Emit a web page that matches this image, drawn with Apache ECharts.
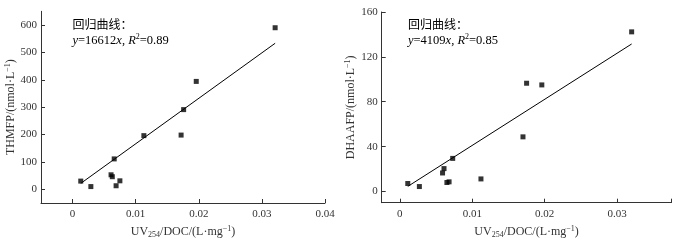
<!DOCTYPE html>
<html><head><meta charset="utf-8">
<script src="https://cdn.jsdelivr.net/npm/echarts@6/dist/echarts.min.js"></script>
<style>html,body{margin:0;padding:0;background:#fff}#c{width:681px;height:242px}</style>
</head><body><div id="c"></div>
<script>
// THMFP chart
const thmX = [0.0013, 0.0029, 0.0061, 0.0063, 0.0066, 0.0069, 0.0075, 0.0113, 0.0172, 0.0176, 0.0196, 0.0321];
const thmY = [30, 10, 53, 46, 111, 13, 31, 196, 198, 291, 394, 590];
const thmSlope = 16612;
const thmR2 = '0.89';
const thmXTicks = [0, 0.01, 0.02, 0.03, 0.04];
const thmYTicks = [0, 100, 200, 300, 400, 500, 600];
// DHAAFP chart
const dhaX = [0.0011, 0.0027, 0.0059, 0.0061, 0.0065, 0.0068, 0.0073, 0.0112, 0.0170, 0.0175, 0.0196, 0.0320];
const dhaY = [7.1, 4.4, 16.5, 20.4, 8.0, 8.6, 29.5, 11.2, 48.7, 96.5, 95.0, 142.3];
const dhaSlope = 4109;
const dhaR2 = '0.85';
const dhaXTicks = [0, 0.01, 0.02, 0.03];
const dhaXTickMarks = [0, 0.01, 0.02, 0.03, 0.0375];
const dhaYTicks = [0, 40, 80, 120, 160];

const serif = '"Liberation Serif","Times New Roman",serif';
const cjk = '"Noto Sans CJK SC",sans-serif';
const col = '#333';

function pairs(xs, ys){ return xs.map((x,i)=>[x, ys[i]]); }
function fitLine(xs, k){ const a=Math.min(...xs), b=Math.max(...xs); return [[a,k*a],[b,k*b]]; }
const fmtX = v => String(+(+v).toFixed(4));

const nameRich = {
  n:{fontFamily:serif,fontSize:12,color:col,lineHeight:14},
  sub:{fontFamily:serif,fontSize:8,color:col,verticalAlign:'bottom',lineHeight:14,padding:[4,0,0,0]},
  sup:{fontFamily:serif,fontSize:8,color:col,verticalAlign:'top',lineHeight:14,padding:[0,0,4,0]}
};
const xName = '{n|UV}{sub|254}{n|/DOC/(L·mg}{sup|−1}{n|)}';

function xAxis(gi, min, max, labels, marks){
  return {gridIndex:gi, type:'value', min, max, name:xName, nameLocation:'middle', nameGap:21,
    nameTextStyle:{rich:nameRich},
    axisLine:{show:true,onZero:false,lineStyle:{color:col,width:1}},
    axisTick:{show:true,inside:true,length:4,customValues:marks,lineStyle:{color:col}},
    axisLabel:{customValues:labels,formatter:fmtX,fontFamily:serif,fontSize:11,color:col,margin:6},
    splitLine:{show:false}};
}
function yAxis(gi, min, max, labels, marks, nm){
  return {gridIndex:gi, type:'value', min, max, name:nm, nameLocation:'middle', nameGap:21, nameRotate:90,
    nameTextStyle:{rich:nameRich},
    axisLine:{show:true,onZero:false,lineStyle:{color:col,width:1}},
    axisTick:{show:true,inside:true,length:4,customValues:marks,lineStyle:{color:col}},
    axisLabel:{customValues:labels,fontFamily:serif,fontSize:11,color:col,margin:4},
    splitLine:{show:false}};
}

const annRich = {
  c:{fontFamily:cjk,fontSize:12,color:'#222',lineHeight:17},
  i:{fontFamily:serif,fontSize:12.5,fontStyle:'italic',color:'#222',lineHeight:17},
  t:{fontFamily:serif,fontSize:12.5,color:'#222',lineHeight:17},
  s:{fontFamily:serif,fontSize:8,color:'#222',verticalAlign:'top',lineHeight:17,padding:[0,0,5,0]}
};
function ann(x, k, r2){
  return {type:'text', left:x, top:18, style:{
    text:'{c|回归曲线：}\n{i|y}{t|='+k+'}{i|x}{t|, }{i|R}{s|2}{t|='+r2+'}', rich:annRich}};
}

const chart = echarts.init(document.getElementById('c'), null, {renderer:'canvas'});
chart.setOption({
  animation:false,
  grid:[{left:41,top:11.3,width:284,height:191.7,containLabel:false,outerBoundsMode:'none'},
        {left:381.7,top:12,width:289.8,height:190.7,containLabel:false,outerBoundsMode:'none'}],
  xAxis:[xAxis(0,-0.005,0.04,thmXTicks,thmXTicks), xAxis(1,-0.0025,0.0375,dhaXTicks,dhaXTickMarks)],
  yAxis:[yAxis(0,-50,650,thmYTicks,thmYTicks,'{n|THMFP/(nmol·L}{sup|−1}{n|)}'),
         yAxis(1,-10,160,dhaYTicks,dhaYTicks,'{n|DHAAFP/(nmol·L}{sup|−1}{n|)}')],
  graphic:[ann(72.5, thmSlope, thmR2), ann(408, dhaSlope, dhaR2)],
  series:[
    {type:'scatter',xAxisIndex:0,yAxisIndex:0,data:pairs(thmX,thmY),symbol:'rect',symbolSize:5,itemStyle:{color:'#000'}},
    {type:'line',xAxisIndex:0,yAxisIndex:0,data:fitLine(thmX,thmSlope),symbol:'none',lineStyle:{color:'#000',width:1}},
    {type:'scatter',xAxisIndex:1,yAxisIndex:1,data:pairs(dhaX,dhaY),symbol:'rect',symbolSize:5,itemStyle:{color:'#000'}},
    {type:'line',xAxisIndex:1,yAxisIndex:1,data:fitLine(dhaX,dhaSlope),symbol:'none',lineStyle:{color:'#000',width:1}}
  ]
});
</script></body></html>
